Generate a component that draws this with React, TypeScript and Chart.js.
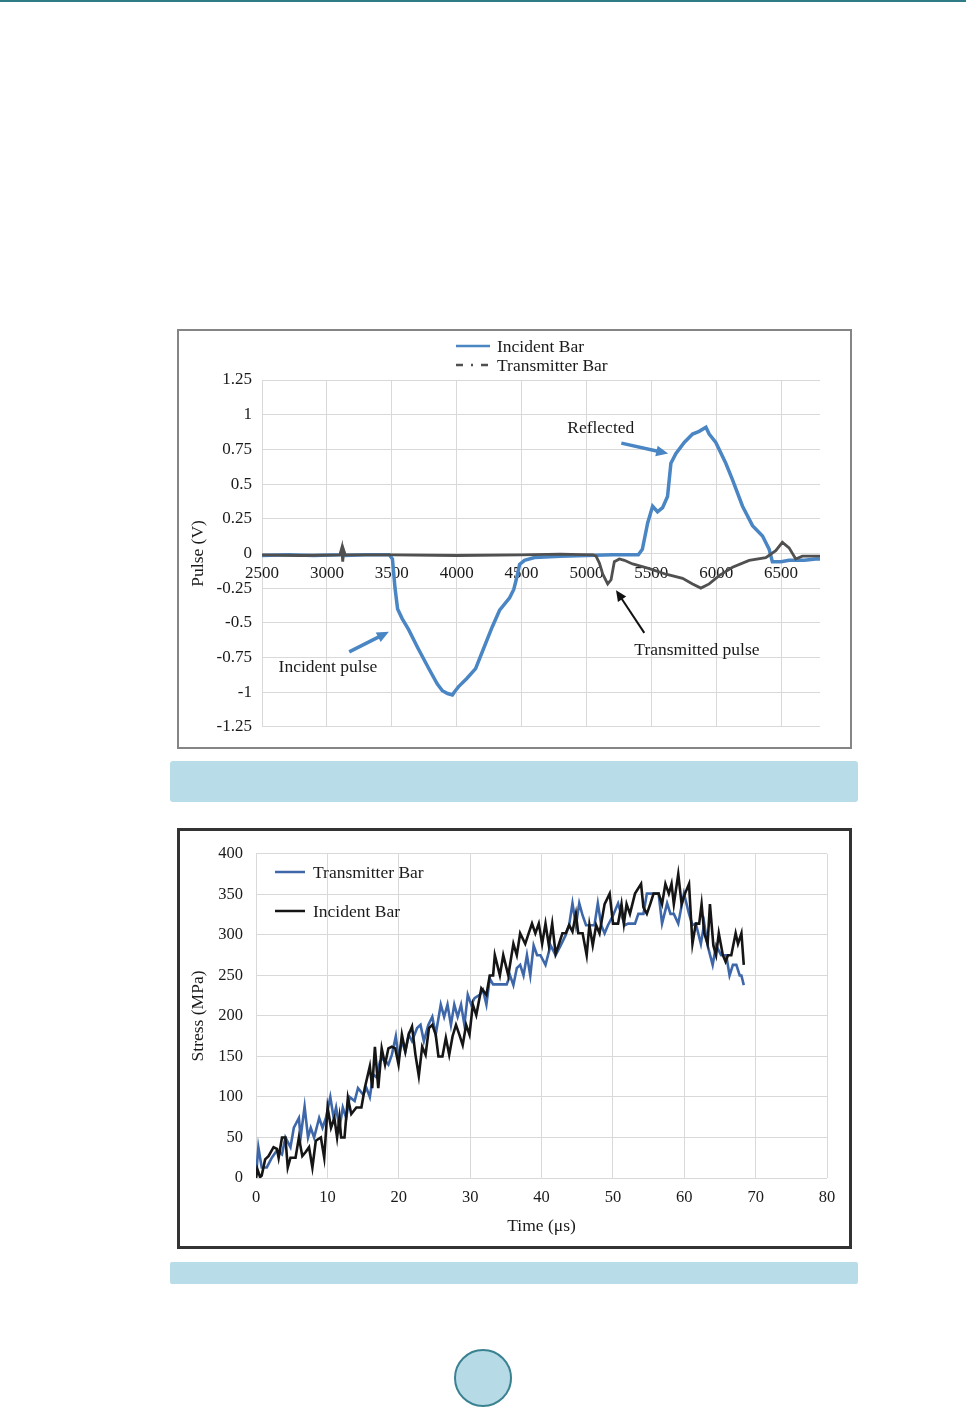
import React, { useEffect, useRef } from "react";
import { Chart, registerables } from "chart.js";

Chart.register(...registerables);

const SERIF = "'Liberation Serif', 'Times New Roman', Times, serif";
Chart.defaults.font.family = SERIF;
Chart.defaults.color = "#1a1a1a";

// ---------- Figure (a): pulses ----------
const incidentTime = [2500, 2700, 2900, 3100, 3125, 3140, 3300, 3480, 3505, 3525, 3545, 3580, 3630, 3700, 3785, 3850, 3890, 3930, 3967, 3990, 4015, 4080, 4146, 4210, 4274, 4331, 4408, 4440, 4459, 4485, 4523, 4600, 4800, 5000, 5200, 5400, 5431, 5472, 5510, 5548, 5587, 5625, 5651, 5690, 5754, 5818, 5869, 5921, 5946, 5997, 6074, 6126, 6203, 6280, 6357, 6408, 6433, 6500, 6562, 6680, 6767, 6800];
const incidentPulse = [-0.015, -0.01, -0.015, -0.01, 0.02, -0.015, -0.01, -0.01, -0.04, -0.25, -0.4, -0.47, -0.55, -0.68, -0.83, -0.94, -0.99, -1.01, -1.02, -0.99, -0.96, -0.9, -0.83, -0.68, -0.53, -0.41, -0.32, -0.26, -0.19, -0.08, -0.05, -0.03, -0.02, -0.015, -0.01, -0.01, 0.03, 0.22, 0.34, 0.3, 0.33, 0.41, 0.65, 0.72, 0.8, 0.86, 0.88, 0.91, 0.86, 0.8, 0.65, 0.53, 0.34, 0.2, 0.125, 0.03, -0.06, -0.06, -0.05, -0.05, -0.04, -0.04];

const transmitterTime = [2500, 2800, 3100, 3115, 3122, 3130, 3140, 3500, 4000, 4500, 4800, 5050, 5074, 5100, 5126, 5164, 5190, 5215, 5254, 5292, 5356, 5485, 5613, 5741, 5818, 5882, 5946, 6023, 6126, 6254, 6382, 6459, 6510, 6562, 6613, 6664, 6800];
const transmitterPulse = [-0.01, -0.015, -0.01, 0.04, -0.06, 0.02, -0.01, -0.01, -0.015, -0.01, -0.005, -0.01, -0.02, -0.07, -0.15, -0.22, -0.19, -0.06, -0.04, -0.05, -0.076, -0.11, -0.15, -0.18, -0.22, -0.25, -0.22, -0.16, -0.1, -0.05, -0.03, 0.02, 0.08, 0.04, -0.04, -0.02, -0.02];

const pulseXTicks = [2500, 3000, 3500, 4000, 4500, 5000, 5500, 6000, 6500];
const pulseYTicks = [-1.25, -1, -0.75, -0.5, -0.25, 0, 0.25, 0.5, 0.75, 1, 1.25];

const pulseNotes = [
  { text: "Reflected", x: 4852, y: 0.9 },
  { text: "Incident pulse", x: 2628, y: -0.82 },
  { text: "Transmitted pulse", x: 5369, y: -0.7 },
];
const pulseArrows = [
  { from: [5269, 0.795], to: [5630, 0.72], color: "#4a86c4", width: 3.5, head: 12 },
  { from: [3172, -0.71], to: [3478, -0.565], color: "#4a86c4", width: 3.5, head: 12 },
  { from: [5446, -0.573], to: [5228, -0.265], color: "#111111", width: 2, head: 11 },
];

// ---------- Figure (b): stress ----------
const transStressTime = [0, 0.33, 0.8, 1.51, 2.22, 2.93, 3.64, 4.12, 4.83, 5.3, 6.01, 6.25, 6.81, 7.29, 7.67, 8.14, 8.85, 9.32, 9.8, 10.41, 10.88, 11.22, 11.69, 12.16, 12.64, 13.11, 13.82, 14.29, 15.0, 15.48, 15.95, 16.42, 16.9, 17.37, 17.84, 18.55, 19.03, 19.59, 19.97, 20.44, 20.92, 21.39, 21.86, 22.57, 23.05, 23.52, 24.14, 24.7, 25.18, 25.89, 26.36, 26.83, 27.31, 27.78, 28.25, 28.73, 29.2, 29.67, 30.15, 30.62, 31.33, 31.8, 32.28, 32.75, 33.22, 35.12, 35.59, 36.06, 36.54, 37.01, 37.48, 37.96, 38.43, 38.9, 39.38, 39.85, 40.56, 41.27, 41.98, 42.69, 43.4, 43.87, 44.34, 44.82, 45.29, 45.76, 46.24, 46.71, 47.42, 47.89, 48.37, 48.84, 49.31, 50.02, 50.73, 51.21, 51.68, 52.15, 53.1, 53.57, 54.28, 54.76, 56.41, 56.89, 57.6, 58.07, 58.54, 59.16, 59.96, 60.67, 61.15, 61.62, 62.33, 62.8, 63.27, 63.98, 64.46, 65.17, 65.88, 66.35, 66.82, 67.3, 67.77, 68.01, 68.34];
const transStress = [1, 38, 13, 13, 25, 34, 29, 50, 38, 62, 74, 50, 88, 50, 62, 50, 74, 62, 74, 100, 74, 87, 62, 87, 74, 100, 95, 111, 103, 111, 100, 128, 124, 144, 148, 140, 152, 175, 148, 169, 156, 177, 169, 185, 189, 169, 189, 199, 177, 214, 199, 214, 189, 214, 199, 214, 189, 226, 214, 222, 226, 232, 214, 246, 239, 239, 250, 238, 259, 263, 250, 275, 250, 287, 275, 275, 263, 287, 275, 287, 300, 312, 339, 312, 339, 324, 312, 312, 312, 339, 312, 302, 312, 324, 339, 324, 312, 314, 314, 326, 326, 351, 351, 314, 339, 326, 326, 314, 351, 326, 312, 314, 289, 314, 287, 263, 287, 275, 275, 250, 263, 263, 250, 250, 238];

const incStressTime = [0, 0.19, 0.57, 0.8, 1.28, 1.75, 2.46, 2.93, 3.17, 3.64, 4.12, 4.45, 4.83, 5.54, 6.01, 6.49, 6.96, 7.43, 7.9, 8.38, 9.09, 9.56, 10.03, 10.51, 10.98, 11.36, 11.69, 11.93, 12.4, 12.87, 13.35, 14.06, 14.77, 15.24, 15.95, 16.28, 16.66, 17.13, 17.61, 18.08, 18.55, 19.03, 19.5, 19.97, 20.44, 20.92, 21.39, 21.86, 22.34, 22.81, 23.28, 23.76, 24.23, 24.7, 25.18, 25.56, 26.12, 26.6, 27.07, 27.54, 28.02, 28.49, 28.96, 29.44, 29.91, 30.38, 30.86, 31.57, 32.28, 32.75, 33.22, 33.46, 34.17, 34.64, 35.35, 36.06, 36.54, 37.01, 37.72, 38.2, 38.67, 39.14, 39.62, 40.09, 40.56, 41.03, 41.5, 41.98, 42.45, 42.93, 43.4, 43.87, 44.34, 44.82, 45.15, 45.76, 46.33, 46.71, 47.18, 47.66, 48.13, 48.84, 49.55, 50.02, 50.73, 51.21, 51.54, 51.92, 52.39, 53.1, 53.95, 54.28, 54.76, 55.23, 55.7, 56.41, 56.89, 57.36, 57.84, 58.22, 58.54, 59.16, 59.63, 60.1, 60.67, 61.15, 61.62, 62.09, 62.43, 62.8, 63.27, 63.6, 64.08, 64.46, 64.84, 65.41, 65.79, 66.12, 66.59, 67.2, 67.53, 68.01, 68.34];
const incStress = [0, 11, 1, 3, 23, 27, 38, 36, 25, 50, 50, 13, 25, 25, 50, 27, 32, 38, 13, 46, 50, 25, 87, 62, 74, 50, 74, 50, 50, 99, 79, 87, 87, 111, 138, 111, 162, 111, 160, 140, 160, 162, 160, 140, 177, 156, 177, 187, 152, 126, 162, 152, 185, 189, 177, 150, 150, 173, 152, 175, 189, 177, 164, 189, 177, 214, 201, 234, 226, 250, 250, 275, 250, 275, 250, 289, 275, 302, 289, 302, 314, 302, 314, 289, 314, 287, 314, 277, 289, 302, 302, 312, 304, 326, 302, 302, 275, 312, 287, 312, 302, 338, 351, 314, 314, 338, 314, 338, 326, 351, 363, 334, 326, 338, 351, 351, 338, 363, 351, 363, 338, 375, 338, 351, 363, 289, 314, 314, 338, 302, 289, 338, 287, 275, 302, 275, 267, 275, 275, 302, 289, 302, 263];

const timeTicks = [0, 10, 20, 30, 40, 50, 60, 70, 80];
const stressTicks = [0, 50, 100, 150, 200, 250, 300, 350, 400];

const zip = (xs: number[], ys: number[]) => xs.map((x, i) => ({ x, y: ys[i] }));

type LegendItem = { ds: number; y: number; x0: number; x1: number; tx: number; dash?: number[] };

function legendPlugin(items: LegendItem[]) {
  return {
    id: "boxLegend",
    afterDatasetsDraw(chart: any) {
      const { ctx } = chart;
      ctx.save();
      for (const it of items) {
        const ds = chart.data.datasets[it.ds];
        ctx.strokeStyle = ds.borderColor;
        ctx.lineWidth = Math.min(ds.borderWidth, 2.5);
        ctx.setLineDash(it.dash || []);
        ctx.beginPath();
        ctx.moveTo(it.x0, it.y);
        ctx.lineTo(it.x1, it.y);
        ctx.stroke();
        ctx.setLineDash([]);
        ctx.fillStyle = "#1a1a1a";
        ctx.font = `17.5px ${SERIF}`;
        ctx.textAlign = "left";
        ctx.textBaseline = "middle";
        ctx.fillText(ds.label, it.tx, it.y + 1);
      }
      ctx.restore();
    },
  };
}

const notesPlugin = {
  id: "pulseNotes",
  afterDatasetsDraw(chart: any) {
    const { ctx } = chart;
    const xs = chart.scales.x;
    const ys = chart.scales.y;
    ctx.save();
    ctx.font = `17.5px ${SERIF}`;
    ctx.fillStyle = "#1a1a1a";
    ctx.textAlign = "left";
    ctx.textBaseline = "middle";
    pulseNotes.forEach((n) => ctx.fillText(n.text, xs.getPixelForValue(n.x), ys.getPixelForValue(n.y)));
    pulseArrows.forEach((a) => {
      const x0 = xs.getPixelForValue(a.from[0]);
      const y0 = ys.getPixelForValue(a.from[1]);
      const x1 = xs.getPixelForValue(a.to[0]);
      const y1 = ys.getPixelForValue(a.to[1]);
      const ang = Math.atan2(y1 - y0, x1 - x0);
      const h = a.head;
      const c = Math.cos(ang);
      const s = Math.sin(ang);
      ctx.strokeStyle = a.color;
      ctx.lineWidth = a.width;
      ctx.beginPath();
      ctx.moveTo(x0, y0);
      ctx.lineTo(x1 - c * h * 0.8, y1 - s * h * 0.8);
      ctx.stroke();
      ctx.fillStyle = a.color;
      ctx.beginPath();
      ctx.moveTo(x1, y1);
      ctx.lineTo(x1 - h * c + h * 0.45 * s, y1 - h * s - h * 0.45 * c);
      ctx.lineTo(x1 - h * c - h * 0.45 * s, y1 - h * s + h * 0.45 * c);
      ctx.closePath();
      ctx.fill();
    });
    ctx.restore();
  },
};

const GRID = "#d9d9d9";

function PulseChart() {
  const ref = useRef<HTMLCanvasElement>(null);
  useEffect(() => {
    const chart = new Chart(ref.current as HTMLCanvasElement, {
      type: "line",
      data: {
        datasets: [
          {
            label: "Transmitter Bar",
            data: zip(transmitterTime, transmitterPulse),
            borderColor: "#505050",
            borderWidth: 2.8,
            pointRadius: 0,
            tension: 0,
          },
          {
            label: "Incident Bar",
            data: zip(incidentTime, incidentPulse),
            borderColor: "#4a86c4",
            borderWidth: 3.5,
            pointRadius: 0,
            tension: 0,
          },
        ],
      },
      options: {
        animation: false,
        responsive: false,
        maintainAspectRatio: false,
        layout: { padding: { top: 49, right: 30, bottom: 14, left: 0 } },
        plugins: { legend: { display: false }, tooltip: { enabled: false } },
        scales: {
          x: {
            type: "linear",
            min: 2500,
            max: 6800,
            position: { y: 0 } as any,
            afterBuildTicks: (s: any) => {
              s.ticks = pulseXTicks.map((v) => ({ value: v }));
            },
            grid: { color: GRID, drawTicks: false },
            border: { display: false },
            ticks: { padding: 10, color: "#1a1a1a", font: { size: 17 }, maxRotation: 0, callback: (v: any) => String(v) },
          },
          y: {
            type: "linear",
            min: -1.25,
            max: 1.25,
            afterBuildTicks: (s: any) => {
              s.ticks = pulseYTicks.map((v) => ({ value: v }));
            },
            afterFit: (s: any) => {
              s.width = 83;
            },
            grid: { color: GRID, drawTicks: false },
            border: { display: false },
            ticks: { padding: 10, color: "#1a1a1a", font: { size: 17 }, callback: (v: any) => String(v) },
            title: { display: true, text: "Pulse (V)", color: "#1a1a1a", font: { size: 17.5 }, padding: { top: 9, bottom: 0 } },
          },
        },
      },
      plugins: [
        notesPlugin,
        legendPlugin([
          { ds: 1, y: 15, x0: 277, x1: 311, tx: 318 },
          { ds: 0, y: 34, x0: 277, x1: 311, tx: 318, dash: [7, 8, 2, 8] },
        ]),
      ],
    } as any);
    return () => chart.destroy();
  }, []);
  return <canvas ref={ref} width={671} height={416} style={{ display: "block" }} />;
}

function StressChart() {
  const ref = useRef<HTMLCanvasElement>(null);
  useEffect(() => {
    const chart = new Chart(ref.current as HTMLCanvasElement, {
      type: "line",
      data: {
        datasets: [
          {
            label: "Incident Bar",
            data: zip(incStressTime, incStress),
            borderColor: "#151515",
            borderWidth: 2.6,
            pointRadius: 0,
            tension: 0,
          },
          {
            label: "Transmitter Bar",
            data: zip(transStressTime, transStress),
            borderColor: "#3e67aa",
            borderWidth: 2.6,
            pointRadius: 0,
            tension: 0,
          },
        ],
      },
      options: {
        animation: false,
        responsive: false,
        maintainAspectRatio: false,
        layout: { padding: { top: 21, right: 22, bottom: 0, left: 0 } },
        plugins: { legend: { display: false }, tooltip: { enabled: false } },
        scales: {
          x: {
            type: "linear",
            min: 0,
            max: 80,
            afterBuildTicks: (s: any) => {
              s.ticks = timeTicks.map((v) => ({ value: v }));
            },
            afterFit: (s: any) => {
              s.height = 68;
            },
            grid: { color: GRID, drawTicks: false },
            border: { display: false },
            ticks: { padding: 10, color: "#1a1a1a", font: { size: 16.5 }, maxRotation: 0, callback: (v: any) => String(v) },
            title: { display: true, text: "Time (μs)", color: "#1a1a1a", font: { size: 17.5 }, padding: { top: 0, bottom: 9 } },
          },
          y: {
            type: "linear",
            min: 0,
            max: 400,
            afterBuildTicks: (s: any) => {
              s.ticks = stressTicks.map((v) => ({ value: v }));
            },
            afterFit: (s: any) => {
              s.width = 76;
            },
            grid: { color: GRID, drawTicks: false },
            border: { display: false },
            ticks: { padding: 13, color: "#1a1a1a", font: { size: 16.5 }, callback: (v: any) => String(v) },
            title: { display: true, text: "Stress (MPa)", color: "#1a1a1a", font: { size: 17.5 }, padding: { top: 8, bottom: 0 } },
          },
        },
      },
      plugins: [
        legendPlugin([
          { ds: 1, y: 41, x0: 95, x1: 125, tx: 133 },
          { ds: 0, y: 80, x0: 95, x1: 125, tx: 133 },
        ]),
      ],
    } as any);
    return () => chart.destroy();
  }, []);
  return <canvas ref={ref} width={669} height={415} style={{ display: "block" }} />;
}

export default function App() {
  return (
    <div
      style={{
        position: "absolute",
        left: 0,
        top: 0,
        width: 966,
        height: 1409,
        background: "#ffffff",
        overflow: "hidden",
      }}
    >
      <div style={{ position: "absolute", left: 0, top: 0, width: 966, height: 2, background: "#2f7b86" }} />

      <div
        style={{
          position: "absolute",
          left: 177,
          top: 329,
          width: 675,
          height: 420,
          boxSizing: "border-box",
          border: "2px solid #858585",
        }}
      >
        <PulseChart />
      </div>

      <div
        style={{
          position: "absolute",
          left: 170,
          top: 761,
          width: 688,
          height: 41,
          background: "#b8dce8",
          borderRadius: 3,
        }}
      />

      <div
        style={{
          position: "absolute",
          left: 177,
          top: 828,
          width: 675,
          height: 421,
          boxSizing: "border-box",
          border: "3px solid #333333",
        }}
      >
        <StressChart />
      </div>

      <div
        style={{
          position: "absolute",
          left: 170,
          top: 1262,
          width: 688,
          height: 22,
          background: "#b8dce8",
          borderRadius: 2,
        }}
      />

      <div
        style={{
          position: "absolute",
          left: 454,
          top: 1349,
          width: 58,
          height: 58,
          boxSizing: "border-box",
          borderRadius: "50%",
          background: "#b6dbe7",
          border: "2.5px solid #3b8291",
        }}
      />
    </div>
  );
}
